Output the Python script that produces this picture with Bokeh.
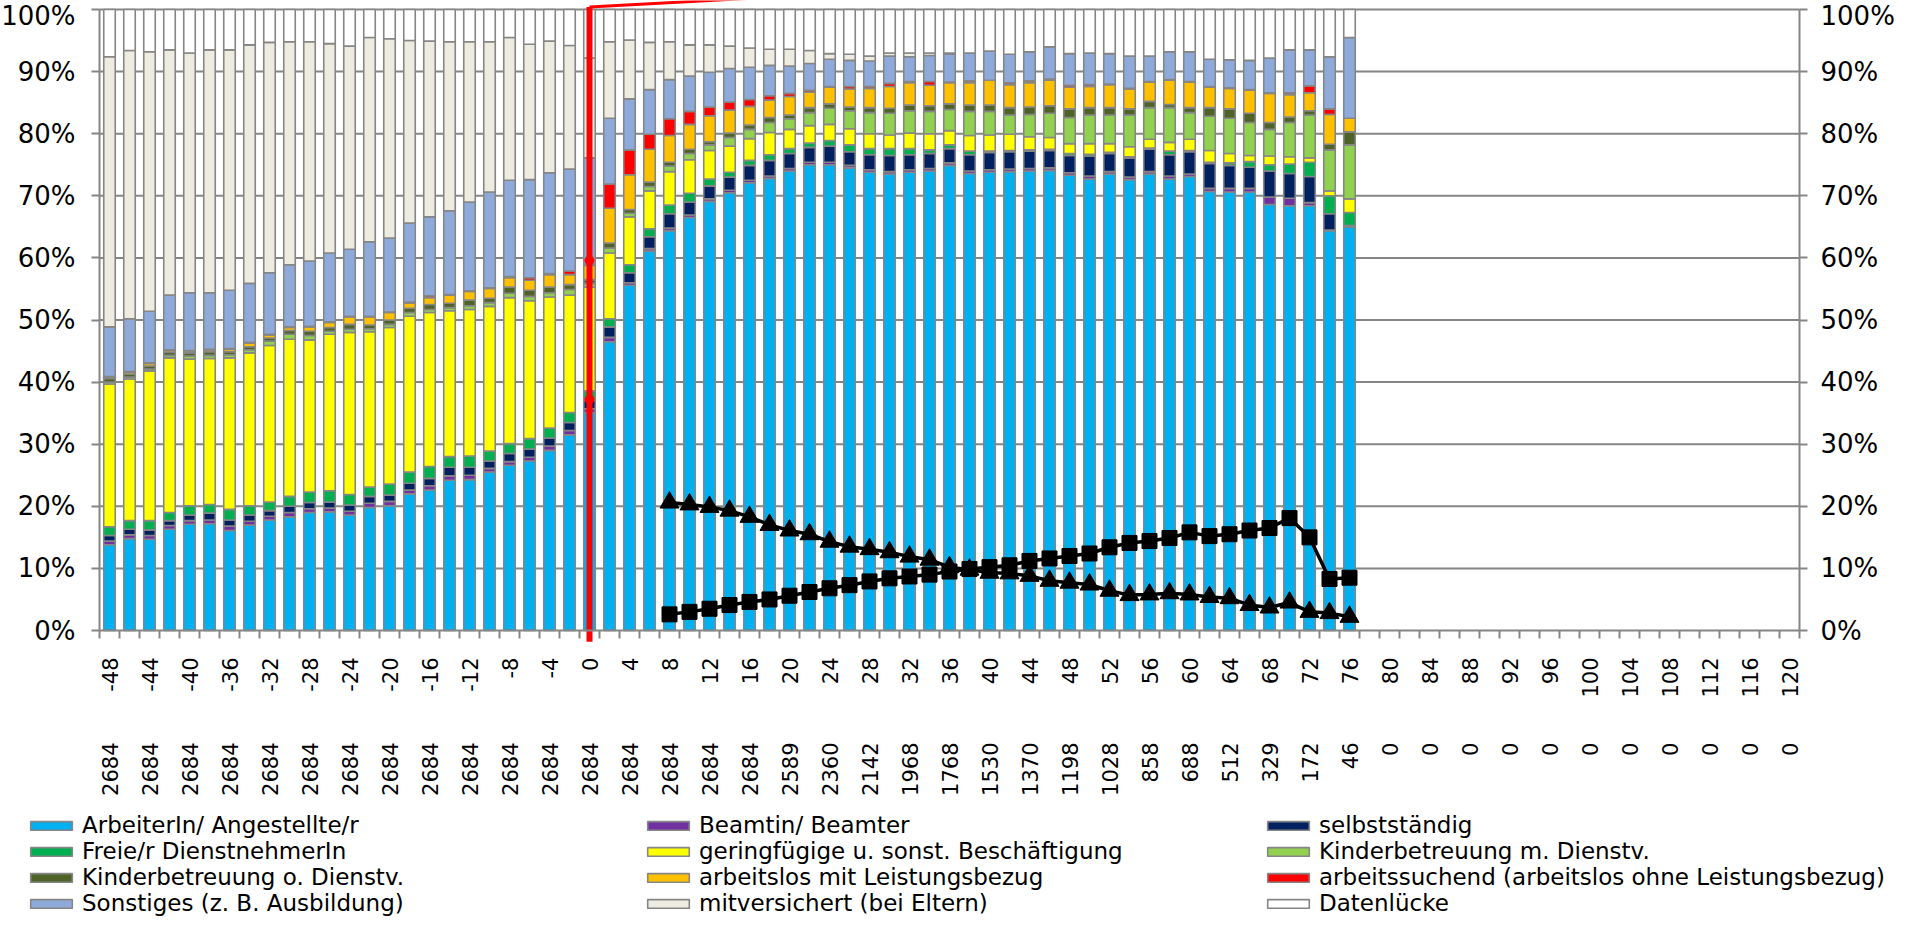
import math
from bokeh.plotting import figure
from bokeh.models import (ColumnDataSource, FixedTicker, LinearAxis, Range1d, Legend,
                          LegendItem, PrintfTickFormatter)
from bokeh.embed import file_html
from bokeh.resources import INLINE

# ---------------- data ----------------
months = list(range(-48, 77, 2))          # bar positions (months relative to event)
tick_months = list(range(-48, 121, 4))    # labelled positions
n_labels = ["2684", "2684", "2684", "2684", "2684", "2684", "2684", "2684", "2684", "2684",
            "2684", "2684", "2684", "2684", "2684", "2684", "2684", "2589", "2360", "2142",
            "1968", "1768", "1530", "1370", "1198", "1028", "858", "688", "512", "329",
            "172", "46", "0", "0", "0", "0", "0", "0", "0", "0", "0", "0", "0"]
pct_ticks = [0, 10, 20, 30, 40, 50, 60, 70, 80, 90, 100]

arbeiter = [13.8, 14.8, 14.7, 16.3, 17.1, 17.2, 16.1, 17.0, 17.8, 18.3, 19.0, 19.1, 18.6, 19.8,
            20.1, 22.0, 22.6, 24.2, 24.3, 25.5, 26.6, 27.3, 29.0, 31.5, 35.1,
            46.5, 55.6, 61.1, 64.4, 66.5, 69.1, 70.5, 72.1, 72.8, 74.0, 75.0, 75.0, 74.5, 73.8,
            73.5, 73.8, 74.0, 74.9, 73.6, 73.8, 73.9, 74.0, 74.1, 73.3, 72.7, 73.5, 72.6, 73.5,
            72.7, 73.1, 70.7, 70.6, 70.6, 68.6, 68.4, 68.4, 64.4, 65.0]
beamtin = [0.6, 0.6, 0.6, 0.6, 0.6, 0.6, 0.7, 0.6, 0.6, 0.7, 0.6, 0.6, 0.6, 0.7, 0.7, 0.6, 0.7,
           0.7, 0.7, 0.6, 0.6, 0.6, 0.7, 0.7, 0.6,
           0.7, 0.4, 0.4, 0.4, 0.4, 0.4, 0.4, 0.4, 0.4, 0.4, 0.4, 0.4, 0.4, 0.4, 0.4, 0.4, 0.4,
           0.4, 0.4, 0.4, 0.4, 0.4, 0.4, 0.4, 0.5, 0.4, 0.4, 0.4, 0.5, 0.4, 0.5, 0.6, 0.6, 1.2,
           1.2, 0.5, 0.1, 0.1]
selbststaendig = [0.9, 0.9, 0.9, 0.8, 0.9, 1.1, 1.0, 1.0, 0.9, 1.0, 1.0, 1.0, 1.0, 1.1, 1.0, 1.1,
                  1.2, 1.4, 1.3, 1.2, 1.3, 1.3, 1.3, 1.3, 1.4,
                  1.7, 1.6, 1.9, 2.3, 2.1, 2.1, 2.1, 2.4, 2.5, 2.4, 2.4, 2.6, 2.2, 2.4, 2.6, 2.4,
                  2.4, 2.3, 2.6, 2.8, 2.8, 2.8, 2.8, 2.8, 3.2, 2.9, 3.1, 3.6, 3.4, 3.6, 4.0, 3.7,
                  3.4, 4.2, 4.0, 4.2, 2.6, 0.1]
freie_dn = [1.4, 1.4, 1.5, 1.3, 1.5, 1.4, 1.7, 1.5, 1.4, 1.6, 1.7, 1.8, 1.7, 1.5, 1.8, 1.8, 1.9,
            1.7, 1.8, 1.6, 1.6, 1.7, 1.6, 1.6, 1.5,
            1.3, 1.3, 1.3, 1.4, 1.4, 1.1, 0.8, 0.8, 0.9, 0.8, 0.7, 0.9, 1.1, 1.0, 1.1, 1.0, 0.6,
            0.6, 0.6, 0.2, 0.2, 0.2, 0.2, 0.3, 0.3, 0.2, 0.2, 0.2, 0.6, 0.2, 0.2, 0.4, 0.9, 1.0,
            1.5, 2.3, 2.9, 2.1]
geringfuegig = [23.0, 22.8, 24.1, 24.9, 23.6, 23.5, 24.4, 24.6, 25.2, 25.3, 24.5, 25.2, 26.1,
                25.0, 25.2, 25.1, 24.8, 23.5, 23.6, 23.3, 23.5, 22.2, 21.1, 18.9, 16.7,
                10.6, 7.7, 6.1, 5.4, 5.4, 4.6, 4.2, 3.5, 3.6, 3.1, 2.8, 2.6, 2.6, 2.4, 2.2, 2.5,
                2.6, 2.3, 2.5, 2.6, 2.6, 2.1, 1.9, 1.6, 1.7, 1.4, 1.6, 1.4, 1.4, 1.8, 1.9, 1.5,
                1.0, 1.4, 1.2, 0.7, 0.8, 2.2]
kinder_m = [0.3, 0.3, 0.3, 0.4, 0.5, 0.5, 0.5, 0.5, 0.7, 0.8, 0.7, 0.5, 0.5, 0.5, 0.5, 0.6, 0.5,
            0.5, 0.6, 0.6, 0.7, 0.7, 0.7, 0.9, 0.6,
            0.8, 0.6, 0.7, 0.9, 1.0, 0.9, 1.4, 1.5, 1.6, 1.7, 2.1, 2.6, 2.9, 3.4, 3.5, 3.6, 3.6,
            3.4, 3.9, 3.8, 3.1, 3.6, 3.9, 4.2, 4.6, 4.6, 5.1, 5.1, 5.6, 4.3, 5.5, 5.7, 5.3, 4.3,
            5.5, 6.9, 6.6, 8.7]
kinder_o = [0.6, 0.5, 0.5, 0.5, 0.5, 0.6, 0.5, 0.5, 0.5, 0.6, 0.7, 0.6, 0.8, 0.6, 0.7, 0.7, 0.8,
            0.7, 0.9, 0.7, 1.0, 1.0, 0.9, 0.8, 0.6,
            0.8, 0.6, 0.7, 0.6, 0.7, 0.5, 0.7, 0.7, 0.8, 0.6, 0.8, 0.7, 0.6, 0.8, 0.8, 0.9, 0.9,
            0.9, 1.0, 1.0, 1.2, 1.2, 1.2, 1.4, 1.2, 1.2, 1.0, 1.0, 0.5, 0.8, 1.4, 1.5, 1.5, 1.1,
            0.9, 0.7, 0.9, 2.1]
arbeitslos_lb = [0.2, 0.3, 0.4, 0.3, 0.3, 0.3, 0.4, 0.6, 0.5, 0.5, 0.7, 0.8, 1.2, 1.3, 1.2, 0.8,
                 1.1, 1.3, 1.4, 1.6, 1.5, 1.6, 2.0, 1.6, 2.3,
                 5.6, 5.6, 5.3, 4.3, 4.0, 4.2, 3.7, 3.0, 2.8, 3.0, 2.5, 2.7, 2.9, 3.1, 3.5, 3.6,
                 3.3, 3.4, 3.6, 4.0, 3.7, 3.9, 4.1, 3.5, 3.4, 3.7, 3.2, 3.1, 3.9, 4.1, 3.3, 3.3,
                 3.7, 4.7, 3.6, 2.9, 4.8, 2.2]
arbeitssuchend = [0.1, 0.1, 0.1, 0.1, 0.1, 0.1, 0.1, 0.1, 0.1, 0.1, 0.1, 0.1, 0.1, 0.1, 0.1, 0.2,
                  0.3, 0.1, 0.1, 0.1, 0.2, 0.4, 0.2, 0.6, 0.2,
                  3.9, 4.0, 2.4, 2.7, 2.1, 1.4, 1.3, 1.1, 0.7, 0.5, 0.3, 0.1, 0.4, 0.3, 0.5, 0.2,
                  0.6, 0.1, 0.3, 0.0, 0.3, 0.3, 0.2, 0.3, 0.3, 0.1, 0.1, 0.1, 0.1, 0.1, 0.1, 0.1,
                  0.1, 0.1, 0.3, 1.1, 0.9, 0.0]
sonstiges = [8.0, 8.5, 8.3, 8.8, 9.3, 9.1, 9.4, 9.5, 9.9, 10.0, 10.5, 11.1, 10.8, 12.0, 11.9,
             12.7, 12.7, 13.5, 14.3, 15.4, 15.5, 15.8, 16.2, 16.4, 17.1,
             10.6, 8.2, 7.2, 6.3, 5.7, 5.6, 5.4, 5.2, 4.9, 4.4, 4.3, 4.4, 4.2, 4.1, 4.4, 4.0,
             4.2, 4.5, 4.5, 4.7, 4.6, 4.7, 5.2, 5.1, 5.1, 4.9, 5.2, 4.1, 4.5, 4.8, 4.4, 4.5,
             4.7, 5.6, 6.9, 5.8, 8.4, 13.0]
mitversichert = [43.5, 43.2, 41.8, 39.5, 38.6, 39.1, 38.7, 38.4, 37.1, 35.9, 35.3, 33.7, 32.7,
                 32.9, 32.1, 29.4, 28.3, 27.2, 25.8, 24.2, 23.0, 21.8, 21.2, 19.9, 16.1,
                 12.3, 9.5, 7.6, 6.1, 5.0, 4.4, 3.6, 3.1, 2.6, 2.7, 2.1, 0.9, 1.0, 0.8, 0.5, 0.6,
                 0.4, 0.2, 0.0, 0.0, 0.0, 0.0, 0.0, 0.0, 0.0, 0.0, 0.0, 0.0, 0.0, 0.0, 0.0, 0.0,
                 0.0, 0.0, 0.0, 0.0, 0.0, 0.0]
datenluecke = [7.6, 6.6, 6.8, 6.5, 7.0, 6.5, 6.5, 5.7, 5.3, 5.2, 5.2, 5.5, 5.9, 4.5, 4.7, 5.0,
               5.1, 5.2, 5.2, 5.2, 4.5, 5.6, 5.1, 5.8, 7.8,
               5.2, 4.9, 5.3, 5.2, 5.7, 5.7, 5.9, 6.2, 6.4, 6.4, 6.6, 7.1, 7.2, 7.5, 7.0, 7.0,
               7.0, 7.0, 7.0, 6.7, 7.2, 6.8, 6.0, 7.1, 7.0, 7.1, 7.5, 7.5, 6.8, 6.8, 8.0, 8.1,
               8.2, 7.8, 6.5, 6.5, 7.6, 4.5]

line_months = list(range(8, 77, 2))
triangle_series = [20.6, 20.3, 19.9, 19.3, 18.3, 17.0, 16.1, 15.5, 14.3, 13.5,
                   13.1, 12.6, 11.9, 11.4, 10.2, 9.8, 9.3, 9.2, 8.8, 8.0,
                   7.7, 7.4, 6.4, 5.7, 5.8, 6.0, 5.8, 5.4, 5.2, 4.1,
                   3.7, 4.5, 3.0, 2.8, 2.2]
square_series = [2.6, 3.0, 3.5, 4.1, 4.6, 5.0, 5.6, 6.2, 6.8, 7.3,
                 7.9, 8.4, 8.7, 9.0, 9.5, 9.9, 10.2, 10.5, 11.2, 11.6,
                 12.0, 12.4, 13.4, 14.1, 14.4, 14.9, 15.8, 15.2, 15.5, 16.1,
                 16.5, 18.1, 15.0, 8.3, 8.5]

event_month = [0]
event_marks = [59.6, 37.2]

series_names = ["ArbeiterIn/ Angestellte/r", "Beamtin/ Beamter", "selbstständig",
                "Freie/r DienstnehmerIn", "geringfügige u. sonst. Beschäftigung",
                "Kinderbetreuung m. Dienstv.", "Kinderbetreuung o. Dienstv.",
                "arbeitslos mit Leistungsbezug", "arbeitssuchend (arbeitslos ohne Leistungsbezug)",
                "Sonstiges (z. B. Ausbildung)", "mitversichert (bei Eltern)", "Datenlücke"]
series_values = [arbeiter, beamtin, selbststaendig, freie_dn, geringfuegig, kinder_m, kinder_o,
                 arbeitslos_lb, arbeitssuchend, sonstiges, mitversichert, datenluecke]
colors = ["#00B0F0", "#7030A0", "#002060", "#00B050", "#FFFF00", "#92D050", "#4F6228",
          "#FFC000", "#FF0000", "#8EAADB", "#EEECE1", "#FFFFFF"]

keys = ["s%d" % i for i in range(len(series_names))]
data = {"x": months}
for k, v in zip(keys, series_values):
    data[k] = v
src = ColumnDataSource(data)

# ---------------- figure geometry ----------------
GRAY = "#868686"
FONT = "DejaVu Sans"
W, H = 1899, 917
X0, X1 = -49, 121                 # plotted category span
PLOT_L, PLOT_R = 99, 1799         # pixel extent of the category span
PLOT_T, PLOT_B = 9, 630           # pixel rows of 100 % and 0 %
xpx = (PLOT_R - PLOT_L) / (X1 - X0)
ypx = (PLOT_B - PLOT_T) / 100.0
x_range = Range1d(X0 - PLOT_L / xpx, X1 + (W - PLOT_R) / xpx)
y_range = Range1d(-(H - PLOT_B) / ypx, 100 + PLOT_T / ypx)

p = figure(width=W, height=H, x_range=x_range, y_range=y_range,
           output_backend="svg", toolbar_location=None,
           min_border_left=0, min_border_right=0, min_border_top=0, min_border_bottom=0)
p.outline_line_color = None
p.grid.visible = False

# horizontal gridlines limited to the plot span
p.segment(x0=[X0] * 10, y0=pct_ticks[1:], x1=[X1] * 10, y1=pct_ticks[1:],
          line_color=GRAY, line_width=2, level="underlay")

renderers = p.vbar_stack(keys, x="x", width=1.15, source=src, fill_color=colors,
                         line_color=GRAY, line_width=1.6)

p.line(line_months, triangle_series, line_color="black", line_width=3.5)
p.scatter(line_months, triangle_series, marker="triangle", size=19, color="black")
p.line(line_months, square_series, line_color="black", line_width=3.5)
p.scatter(line_months, square_series, marker="square", size=15, color="black")

# red event marker line (with connector running off the top)
p.segment(x0=event_month, y0=[-1.8], x1=event_month, y1=[100.4], line_color="red", line_width=6)
p.segment(x0=event_month, y0=[100.4], x1=[26.4], y1=[102.7], line_color="red", line_width=3)
p.scatter(event_month * 2, event_marks, size=9, color="red")


def style_y(ax, standoff, loc):
    ax.fixed_location = loc
    ax.bounds = (0, 100)
    ax.ticker = FixedTicker(ticks=pct_ticks)
    ax.formatter = PrintfTickFormatter(format="%d%%")
    ax.major_label_text_font = FONT
    ax.major_label_text_font_size = "26px"
    ax.major_label_text_color = "black"
    ax.major_label_standoff = standoff
    ax.major_tick_out = 8
    ax.major_tick_in = 0
    ax.major_tick_line_color = GRAY
    ax.major_tick_line_width = 2
    ax.minor_tick_line_color = None
    ax.axis_line_color = GRAY
    ax.axis_line_width = 2


style_y(p.yaxis[0], 16, X0)
yr = LinearAxis()
style_y(yr, 13, X1)
p.add_layout(yr, "right")

xa = p.xaxis[0]
xa.fixed_location = 0
xa.bounds = (X0, X1)
xa.ticker = FixedTicker(ticks=tick_months, minor_ticks=list(range(-49, 122, 2)))
xa.major_label_overrides = {t: str(t) for t in tick_months}
xa.major_label_orientation = math.pi / 2
xa.major_label_text_font = FONT
xa.major_label_text_font_size = "21px"
xa.major_label_text_color = "black"
xa.major_label_standoff = 19
xa.major_tick_out = 0
xa.major_tick_in = 0
xa.major_tick_line_color = None
xa.minor_tick_out = 8
xa.minor_tick_in = 0
xa.minor_tick_line_color = GRAY
xa.minor_tick_line_width = 2
xa.axis_line_color = GRAY
xa.axis_line_width = 2

xn = LinearAxis(ticker=FixedTicker(ticks=tick_months),
                major_label_overrides={t: s for t, s in zip(tick_months, n_labels)})
xn.fixed_location = 0
xn.bounds = (X0, X1)
xn.major_label_orientation = math.pi / 2
xn.major_label_text_font = FONT
xn.major_label_text_font_size = "21px"
xn.major_label_text_color = "black"
xn.major_label_standoff = 112
xn.major_tick_out = 0
xn.major_tick_in = 0
xn.major_tick_line_color = None
xn.minor_tick_line_color = None
xn.minor_tick_out = 0
xn.minor_tick_in = 0
xn.axis_line_color = None
p.add_layout(xn, "below")

# legend: three columns of four entries (row-major order of the original)
cols = [[0, 3, 6, 9], [1, 4, 7, 10], [2, 5, 8, 11]]
col_x = [25, 642, 1262]
for idxs, cx in zip(cols, col_x):
    items = [LegendItem(label=series_names[i], renderers=[renderers[i]]) for i in idxs]
    lg = Legend(items=items, location=(cx, 1), orientation="vertical",
                label_text_font=FONT, label_text_font_size="23px", label_text_color="black",
                glyph_width=52, glyph_height=11, label_standoff=5, spacing=0, padding=0,
                margin=0, border_line_color=None, background_fill_alpha=0)
    p.add_layout(lg, "center")

open("out.html", "w").write(file_html(p, INLINE))
